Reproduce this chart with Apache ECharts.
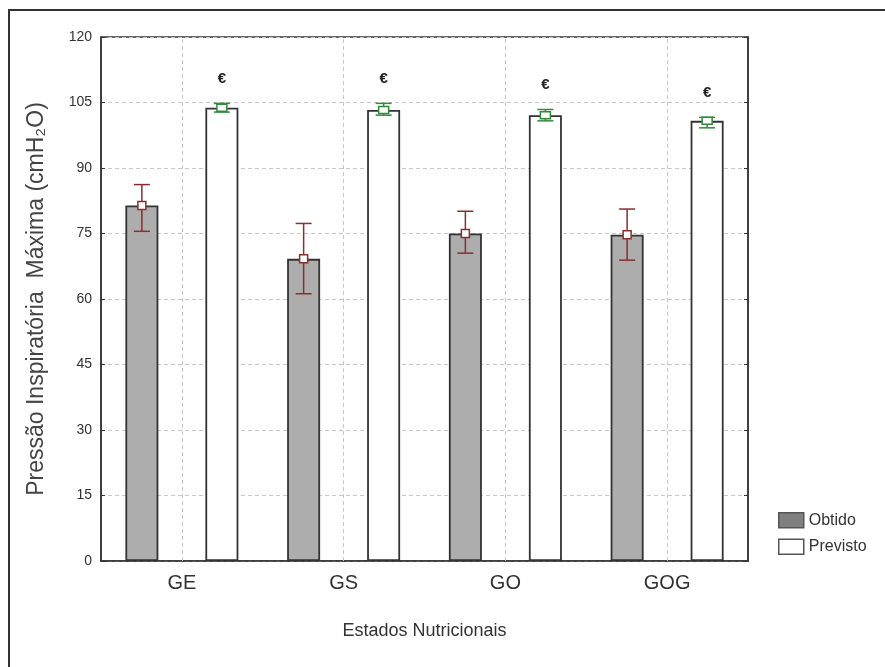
<!DOCTYPE html>
<html>
<head>
<meta charset="utf-8">
<script src="https://cdn.jsdelivr.net/npm/echarts@6/dist/echarts.min.js"></script>
<style>
html,body{margin:0;padding:0;background:#fff;}
#chart{width:885px;height:667px;}
</style>
</head>
<body>
<div id="chart"></div>
<script>
// ---- data ----
const categories = ['GE', 'GS', 'GO', 'GOG'];
const obtidoMean = [81.4, 69.2, 75.0, 74.7];
const obtidoLow = [75.5, 61.2, 70.5, 68.9];
const obtidoHigh = [86.2, 77.3, 80.1, 80.6];
const previstoMean = [103.8, 103.3, 102.1, 100.8];
const previstoLow = [102.8, 102.1, 100.8, 99.2];
const previstoHigh = [104.8, 104.8, 103.4, 101.6];
const signifMarks = ['€', '€', '€', '€'];
const yTicks = [0, 15, 30, 45, 60, 75, 90, 105, 120];

const FONT = 'Liberation Sans, Arial, sans-serif';
const BAR_W = 33;
const OFFSET = 40;

function errData(mean, low, high) {
  return categories.map((c, i) => [i, mean[i], low[i], high[i]]);
}

function makeErrRender(offset, color, markW, markH, marks) {
  return function (params, api) {
    const idx = api.value(0);
    const pMean = api.coord([idx, api.value(1)]);
    const pLow = api.coord([idx, api.value(2)]);
    const pHigh = api.coord([idx, api.value(3)]);
    const x = pMean[0] + offset;
    const cap = 8;
    const style = { stroke: color, lineWidth: 1.5, fill: null };
    const children = [
      { type: 'line', shape: { x1: x, y1: pHigh[1], x2: x, y2: pLow[1] }, style: style },
      { type: 'line', shape: { x1: x - cap, y1: pHigh[1], x2: x + cap, y2: pHigh[1] }, style: style },
      { type: 'line', shape: { x1: x - cap, y1: pLow[1], x2: x + cap, y2: pLow[1] }, style: style },
      { type: 'rect', shape: { x: x - markW / 2, y: pMean[1] - markH / 2, width: markW, height: markH },
        style: { stroke: color, lineWidth: 1.5, fill: '#ffffff' } }
    ];
    if (marks) {
      children.push({
        type: 'text',
        style: {
          text: marks[params.dataIndex], x: x, y: pHigh[1] - 17,
          align: 'center', verticalAlign: 'bottom',
          font: 'bold 15px ' + FONT, fill: '#222'
        }
      });
    }
    return { type: 'group', children: children };
  };
}

const chart = echarts.init(document.getElementById('chart'));
const option = {
  backgroundColor: '#ffffff',
  animation: false,
  graphic: [{
    type: 'rect', shape: { x: 9, y: 10, width: 900, height: 700 },
    style: { fill: null, stroke: '#333', lineWidth: 2 }, silent: true, z: 0
  }],
  grid: {
    left: 101, right: 137, top: 37, bottom: 106,
    show: true, borderColor: '#333', borderWidth: 1.5, backgroundColor: 'transparent'
  },
  legend: {
    orient: 'vertical', left: 778, top: 512,
    itemWidth: 25, itemHeight: 15, itemGap: 10, padding: 0,
    icon: 'rect',
    textStyle: { fontSize: 16, color: '#333', fontFamily: FONT },
    data: [
      { name: 'Obtido', itemStyle: { color: '#808080', borderColor: '#555', borderWidth: 1.5 } },
      { name: 'Previsto', itemStyle: { color: '#ffffff', borderColor: '#555', borderWidth: 1.5 } }
    ]
  },
  xAxis: {
    type: 'category', data: categories, boundaryGap: true,
    name: 'Estados Nutricionais', nameLocation: 'middle', nameGap: 61,
    nameTextStyle: { fontSize: 18, color: '#333', fontFamily: FONT },
    axisLine: { show: true, lineStyle: { color: '#333', width: 1.5 } },
    axisTick: { show: false },
    axisLabel: { fontSize: 20, color: '#333', fontFamily: FONT, margin: 12 },
    splitLine: { show: false }
  },
  yAxis: [{
    type: 'value', min: 0, max: 120, interval: 15,
    name: 'Pressão Inspiratória  Máxima (cmH₂O)', nameLocation: 'middle', nameGap: 53,
    nameTextStyle: { fontSize: 23, color: '#444', fontFamily: FONT },
    axisLine: { show: true, lineStyle: { color: '#333', width: 1.5 } },
    axisTick: { show: true, inside: true, length: 4, lineStyle: { color: '#333' } },
    axisLabel: { fontSize: 14, color: '#333', fontFamily: FONT, margin: 9,
      formatter: v => (yTicks.indexOf(v) >= 0 ? String(v) : '') },
    splitLine: { show: true, lineStyle: { color: '#c8c8c8', type: [4, 3], width: 1 } }
  }, {
    type: 'value', min: 0, max: 120, interval: 15, position: 'right',
    axisLine: { show: true, lineStyle: { color: '#333', width: 1.5 } },
    axisTick: { show: true, inside: true, length: 4, lineStyle: { color: '#333' } },
    axisLabel: { show: false }, splitLine: { show: false }
  }],
  series: [
    {
      name: 'Obtido', type: 'bar', data: obtidoMean,
      barWidth: BAR_W, barGap: ((2 * OFFSET - BAR_W) / BAR_W * 100) + '%',
      itemStyle: { color: '#adadad', borderColor: '#333', borderWidth: 1.8 },
      z: 3
    },
    {
      name: 'Previsto', type: 'bar', data: previstoMean,
      barWidth: BAR_W,
      itemStyle: { color: '#ffffff', borderColor: '#333', borderWidth: 1.8 },
      z: 3
    },
    {
      type: 'line', name: 'vgrid', data: [], silent: true, z: 1,
      markLine: {
        silent: true, symbol: 'none', label: { show: false }, animation: false,
        lineStyle: { color: '#c8c8c8', type: [4, 3], width: 1 },
        data: categories.map(c => ({ xAxis: c }))
      }
    },
    {
      type: 'custom', name: 'errObtido', data: errData(obtidoMean, obtidoLow, obtidoHigh),
      renderItem: makeErrRender(-OFFSET, '#8b2e2e', 8, 8, null),
      encode: { x: 0, y: [1, 2, 3] }, z: 10, silent: true
    },
    {
      type: 'custom', name: 'errPrevisto', data: errData(previstoMean, previstoLow, previstoHigh),
      renderItem: makeErrRender(OFFSET, '#2e8b3a', 10, 7, signifMarks),
      encode: { x: 0, y: [1, 2, 3] }, z: 10, silent: true
    }
  ]
};
chart.setOption(option);
</script>
</body>
</html>
